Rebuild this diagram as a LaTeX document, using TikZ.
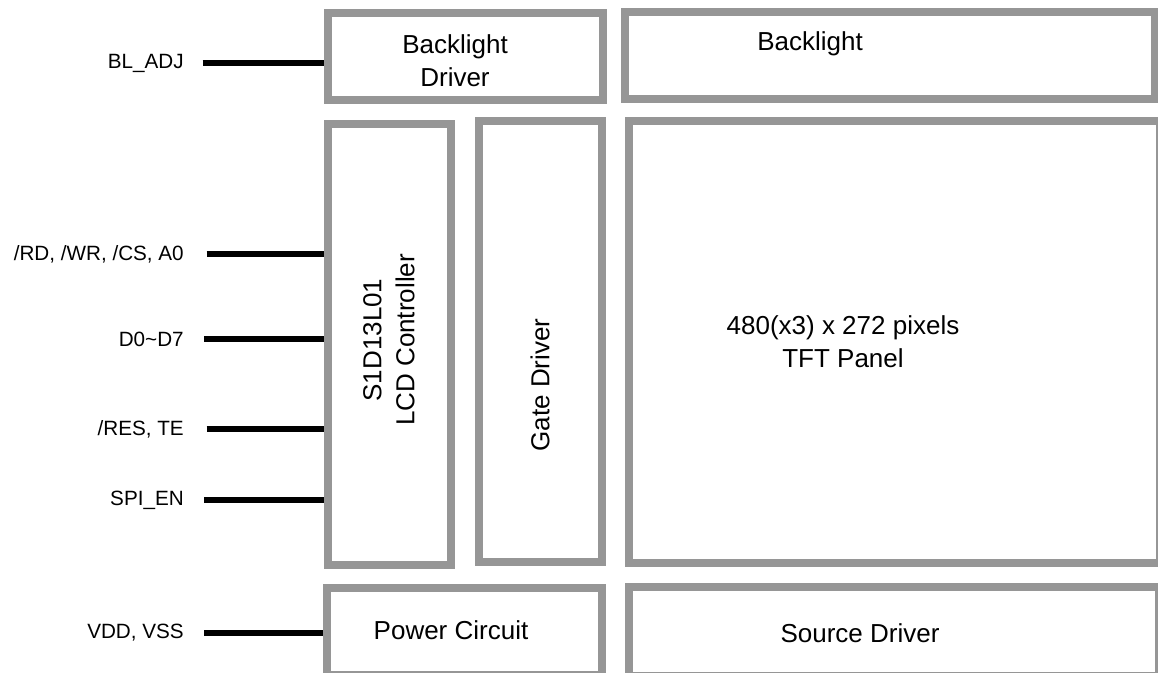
\documentclass[tikz,border=0pt]{standalone}
\usepackage{fontspec}
\setmainfont{Liberation Sans}
\usetikzlibrary{positioning}
\definecolor{boxgray}{RGB}{150,150,150}
\tikzset{
blk/.style={draw=boxgray,line width=6pt,rectangle,inner sep=0pt},
boxtext/.style={font=\fontsize{19.5}{24.75}\selectfont,align=center,inner sep=0pt},
pintext/.style={font=\fontsize{15.5}{18}\selectfont,anchor=east,inner sep=0pt},
wire/.style={line width=4pt}
}

\begin{document}
\begin{tikzpicture}[x=0.75pt,y=-0.75pt]
\useasboundingbox (0,0) rectangle (1158,673);
\clip (0,0) rectangle (1158,673);

% pins
\node[pintext] (bladj) at (184,63)  {BL\_ADJ};
\node[pintext] (rdwr)  at (184,254) {/RD, /WR, /CS, A0};
\node[pintext] (data)  at (184,339) {D0\textasciitilde D7};
\node[pintext] (reste) at (184,429) {/RES, TE};
\node[pintext] (spien) at (184,500) {SPI\_EN};
\node[pintext] (vddss) at (184,633) {VDD, VSS};

% blocks
\node[blk,minimum width=206.25pt,minimum height=65.25pt]  (bldrv) at (465.5,56.5) {};
\node[blk,minimum width=397.5pt,minimum height=65.25pt]   (bl)    at (890,55.5)   {};
\node[blk,minimum width=92.25pt,minimum height=330.75pt]  (ctrl)  at (389.5,344.5) {};
\node[blk,minimum width=92.25pt,minimum height=330.75pt]  (gate)  at (540.5,341.5) {};
\node[blk,minimum width=398.25pt,minimum height=331.5pt]  (tft)   at (894.5,342)  {};
\node[blk,minimum width=206.25pt,minimum height=65.25pt]  (pwr)   at (464.5,631.5) {};
\node[blk,minimum width=397.5pt,minimum height=66.75pt]   (src)   at (894,631.5)  {};

% block texts
\node[boxtext] (bldrvtxt) at (455,61)  {Backlight\\Driver};
\node[boxtext] (bltxt)    at (810,44)  {Backlight};
\node[boxtext,rotate=90] (ctrltxt) at (389,340) {S1D13L01\\LCD Controller};
\node[boxtext,rotate=90] (gatetxt) at (540,385) {Gate Driver};
\node[boxtext] (tfttxt)   at (843,342) {480(x3) x 272 pixels\\TFT Panel};
\node[boxtext] (pwrtxt)   at (451,630) {Power Circuit};
\node[boxtext] (srctxt)   at (860,633) {Source Driver};

% wires
\draw[wire] ([xshift=14pt]bladj.east) -- (bladj -| bldrv.west);
\draw[wire] ([xshift=17pt]rdwr.east)  -- (rdwr -| ctrl.west);
\draw[wire] ([xshift=15pt]data.east)  -- (data -| ctrl.west);
\draw[wire] ([xshift=17pt]reste.east) -- (reste -| ctrl.west);
\draw[wire] ([xshift=15pt]spien.east) -- (spien -| ctrl.west);
\draw[wire] ([xshift=15pt]vddss.east) -- (vddss -| pwr.west);
\end{tikzpicture}
\end{document}
